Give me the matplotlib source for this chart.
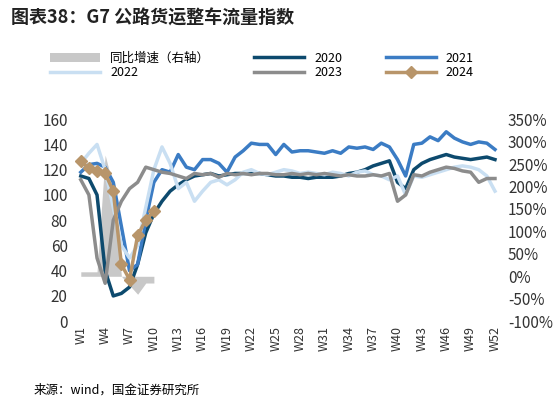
import matplotlib.pyplot as plt
import numpy as np

plt.rcParams['font.family'] = ['Noto Sans CJK SC', 'DejaVu Sans']

weeks = [f"W{i}" for i in range(1, 53)]
v2020 = [115, 113, 100, 40, 20, 22, 27, 45, 70, 85, 95, 103, 108, 112, 115, 116, 117, 115, 116, 117,
         117, 117, 117, 116, 115, 115, 114, 114, 113, 114, 114, 114, 115, 117, 118, 120, 123, 125, 127, 110,
         105, 120, 125, 128, 130, 132, 130, 129, 128, 129, 130, 128]
v2021 = [118, 124, 125, 122, 110, 75, 40, 45, 80, 110, 120, 118, 132, 122, 120, 128, 128, 125, 118, 130,
         135, 141, 140, 140, 132, 140, 134, 135, 135, 134, 133, 135, 133, 138, 137, 138, 136, 141, 138, 128,
         115, 140, 141, 146, 143, 150, 145, 142, 140, 142, 141, 136]
v2022 = [125, 133, 140, 120, 90, 60, 50, 60, 90, 120, 138, 125, 105, 110, 95, 103, 110, 112, 108, 112,
         118, 120, 117, 116, 118, 120, 119, 117, 118, 117, 116, 118, 117, 115, 118, 119, 116, 115, 112, 115,
         100, 115, 114, 116, 118, 120, 122, 123, 122, 120, 115, 103]
v2023 = [112, 100, 50, 30, 80, 95, 105, 110, 122, 120, 118, 117, 115, 113, 117, 116, 117, 114, 117, 116,
         117, 116, 117, 117, 116, 116, 117, 116, 117, 116, 117, 116, 115, 116, 115, 115, 116, 115, 117, 95,
         100, 116, 115, 118, 120, 122, 121, 119, 118, 110, 113, 113]
v2024 = [127, 121, 119, 117, 103, 45, 33, 68, 80, 87]
yoy = [10, 10, 10, 270, 200, 0, -20, -40, -15, -15]

fig = plt.figure(figsize=(5.59, 4.04), dpi=100)
fig.text(0.02, 0.955, "图表38：G7 公路货运整车流量指数", fontsize=13, fontweight='bold',
         style='italic', color='#222222', va='center')
fig.text(0.06, 0.035, "来源：wind，国金证券研究所", fontsize=9, va='center')

ax = fig.add_axes([0.13, 0.205, 0.77, 0.50])
ax2 = ax.twinx()
x = np.arange(52)
ax2.fill_between(x[:len(yoy)], 0, yoy, color='#c8c8c8', lw=0, label='同比增速（右轴）')
ax2.set_ylim(-100, 350)
ax2.set_yticks(np.arange(-100, 351, 50))
ax2.set_yticklabels([f"{t}%" for t in range(-100, 351, 50)])
ax.set_zorder(ax2.get_zorder() + 1)
ax.patch.set_visible(False)

ax.plot(x, v2020, color='#0d4a6e', lw=2.5, label='2020')
ax.plot(x, v2021, color='#3b7cc4', lw=2.5, label='2021')
ax.plot(x, v2022, color='#c9dff2', lw=2.5, label='2022')
ax.plot(x, v2023, color='#8c8c8c', lw=2.5, label='2023')
ax.plot(x[:len(v2024)], v2024, color='#b8956a', lw=2.5, marker='D', ms=6, label='2024')
ax.set_ylim(0, 160)
ax.set_yticks(range(0, 161, 20))
ax.set_xlim(-1, 52)
ax.set_xticks(x[::3])
ax.set_xticklabels(weeks[::3], rotation=90)

for a in (ax, ax2):
    for s in a.spines.values():
        s.set_visible(False)
    a.tick_params(length=0, labelsize=11, colors='#333333')
ax.tick_params(axis='x', labelsize=9)

h1, l1 = ax2.get_legend_handles_labels()
h2, l2 = ax.get_legend_handles_labels()
hs, ls = h1 + h2, l1 + l2
order = [0, 3, 1, 4, 2, 5]  # row-wise fill for 3 columns
fig.legend([hs[i] for i in order], [ls[i] for i in order], ncol=3, loc='upper left',
           bbox_to_anchor=(0.07, 0.9), frameon=False, fontsize=9, handlelength=4,
           columnspacing=3.5, labelspacing=0.1)
fig.savefig("out.png", dpi=100)
